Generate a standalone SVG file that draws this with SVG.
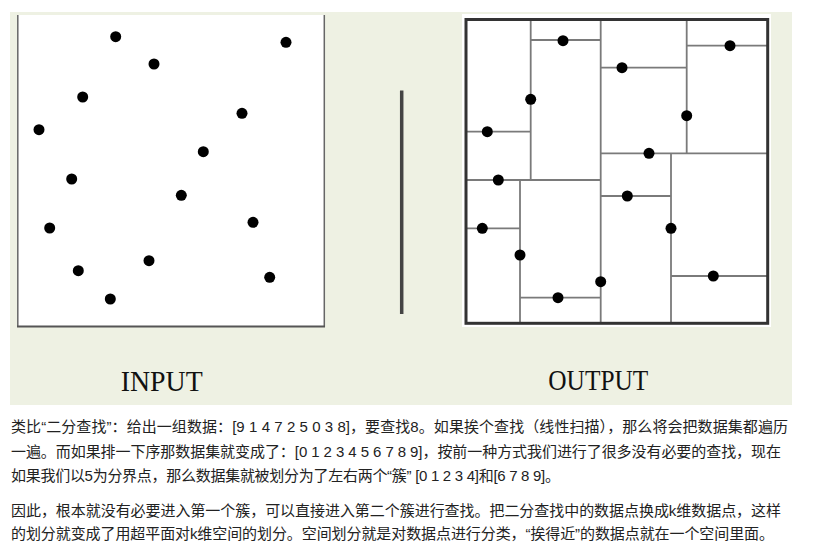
<svg xmlns="http://www.w3.org/2000/svg" width="814" height="551" viewBox="0 0 814 551">
<style>
.dot{fill:#000}
.split{stroke:#7a7a7a;stroke-width:1.8;fill:none}
.lbl{font-family:"Liberation Serif","DejaVu Serif",serif;font-size:30px;fill:#111;text-anchor:middle}
.para{font-family:"Liberation Sans","Noto Sans CJK SC",sans-serif;font-size:15px;fill:#222}
</style>
<rect x="0" y="0" width="814" height="551" fill="#fff"/>
<rect x="10" y="12" width="782" height="393" fill="#eef1e3"/>

<g id="input-panel">
<rect x="17" y="15" width="308" height="312" fill="#fff"/>
<line x1="17.8" y1="15" x2="17.8" y2="327" stroke="#666" stroke-width="1.5"/>
<line x1="324.3" y1="15" x2="324.3" y2="327" stroke="#666" stroke-width="1.5"/>
<line x1="17" y1="326.5" x2="325" y2="326.5" stroke="#555" stroke-width="2"/>
<circle class="dot" cx="115.7" cy="36.7" r="5.5"/>
<circle class="dot" cx="286" cy="42.3" r="5.5"/>
<circle class="dot" cx="154" cy="64" r="5.5"/>
<circle class="dot" cx="82.7" cy="97" r="5.5"/>
<circle class="dot" cx="39" cy="129.7" r="5.5"/>
<circle class="dot" cx="242" cy="113.3" r="5.5"/>
<circle class="dot" cx="203.3" cy="151.7" r="5.5"/>
<circle class="dot" cx="71.7" cy="179" r="5.5"/>
<circle class="dot" cx="181.3" cy="195.3" r="5.5"/>
<circle class="dot" cx="49.7" cy="228" r="5.5"/>
<circle class="dot" cx="253" cy="222.3" r="5.5"/>
<circle class="dot" cx="78.3" cy="270.7" r="5.5"/>
<circle class="dot" cx="149" cy="260.7" r="5.5"/>
<circle class="dot" cx="269.7" cy="277.3" r="5.5"/>
<circle class="dot" cx="110.3" cy="299" r="5.5"/>
<text class="lbl" x="161.7" y="390.5" textLength="82" lengthAdjust="spacingAndGlyphs">INPUT</text>
</g>

<g id="separator">
<line x1="401.7" y1="90.5" x2="401.7" y2="314" stroke="#444" stroke-width="3.5"/>
</g>

<g id="output-panel">
<rect x="462" y="14" width="309" height="313" fill="#fff"/>
<g class="split">
<line x1="600.7" y1="19.5" x2="600.7" y2="323"/>
<line x1="466" y1="180" x2="600.7" y2="180"/>
<line x1="530.7" y1="19.5" x2="530.7" y2="180"/>
<line x1="466" y1="131.7" x2="530.7" y2="131.7"/>
<line x1="530.7" y1="40" x2="600.7" y2="40"/>
<line x1="520" y1="180" x2="520" y2="323"/>
<line x1="466" y1="228.3" x2="520" y2="228.3"/>
<line x1="520" y1="297.7" x2="600.7" y2="297.7"/>
<line x1="600.7" y1="153.3" x2="767.7" y2="153.3"/>
<line x1="686.7" y1="19.5" x2="686.7" y2="153.3"/>
<line x1="600.7" y1="67.7" x2="686.7" y2="67.7"/>
<line x1="686.7" y1="45.7" x2="767.7" y2="45.7"/>
<line x1="671" y1="153.3" x2="671" y2="323"/>
<line x1="600.7" y1="196" x2="671" y2="196"/>
<line x1="671" y1="276" x2="767.7" y2="276"/>
</g>
<rect x="466" y="19.5" width="301.7" height="303.8" fill="none" stroke="#333" stroke-width="3"/>
<circle class="dot" cx="498.3" cy="180" r="5.5"/>
<circle class="dot" cx="530.7" cy="99.3" r="5.5"/>
<circle class="dot" cx="487.3" cy="131.7" r="5.5"/>
<circle class="dot" cx="563" cy="40.7" r="5.5"/>
<circle class="dot" cx="520" cy="255" r="5.5"/>
<circle class="dot" cx="482.3" cy="228.3" r="5.5"/>
<circle class="dot" cx="558" cy="297.7" r="5.5"/>
<circle class="dot" cx="600.7" cy="281.7" r="5.5"/>
<circle class="dot" cx="649" cy="153.3" r="5.5"/>
<circle class="dot" cx="686.7" cy="115.7" r="5.5"/>
<circle class="dot" cx="622" cy="67.7" r="5.5"/>
<circle class="dot" cx="730" cy="45.7" r="5.5"/>
<circle class="dot" cx="671" cy="228.3" r="5.5"/>
<circle class="dot" cx="627.3" cy="196" r="5.5"/>
<circle class="dot" cx="713.3" cy="276" r="5.5"/>
<text class="lbl" x="598.3" y="390" textLength="100" lengthAdjust="spacingAndGlyphs">OUTPUT</text>
</g>

<g id="text">
<text class="para" x="11" y="432" textLength="777" lengthAdjust="spacing">类比“二分查找”：给出一组数据：[9 1 4 7 2 5 0 3 8]，要查找8。如果挨个查找（线性扫描），那么将会把数据集都遍历</text>
<text class="para" x="11" y="456.5" textLength="770" lengthAdjust="spacing">一遍。而如果排一下序那数据集就变成了：[0 1 2 3 4 5 6 7 8 9]，按前一种方式我们进行了很多没有必要的查找，现在</text>
<text class="para" x="11" y="481" textLength="549" lengthAdjust="spacing">如果我们以5为分界点，那么数据集就被划分为了左右两个“簇” [0 1 2 3 4]和[6 7 8 9]。</text>
<text class="para" x="11" y="515.5" textLength="770" lengthAdjust="spacing">因此，根本就没有必要进入第一个簇，可以直接进入第二个簇进行查找。把二分查找中的数据点换成k维数据点，这样</text>
<text class="para" x="11" y="539" textLength="763" lengthAdjust="spacing">的划分就变成了用超平面对k维空间的划分。空间划分就是对数据点进行分类，“挨得近”的数据点就在一个空间里面。</text>
</g>
</svg>
